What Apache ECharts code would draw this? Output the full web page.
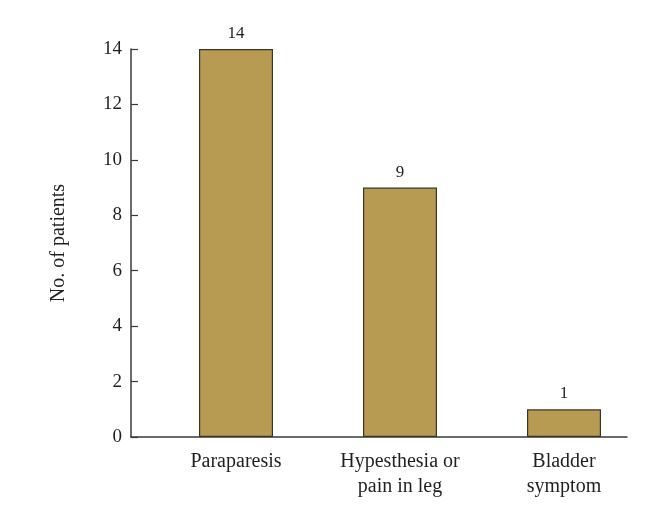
<!DOCTYPE html>
<html>
<head>
<meta charset="utf-8">
<script src="https://cdn.jsdelivr.net/npm/echarts@6/dist/echarts.min.js"></script>
<style>
  html, body { margin: 0; padding: 0; background: #fff; }
  #chart { width: 654px; height: 518px; }
</style>
</head>
<body>
<div id="chart"></div>
<script>
// data
const categories = ['Paraparesis', 'Hypesthesia or\npain in leg', 'Bladder\nsymptom']
const patients = [14, 9, 1]
const yTicks = [0, 2, 4, 6, 8, 10, 12, 14]

const font = 'Liberation Serif'
const textColor = '#231f20'
const axisColor = '#3a3a3a'

const chart = echarts.init(document.getElementById('chart'))

chart.setOption({
  animation: false,
  textStyle: { fontFamily: font },
  grid: [
    // axes frame
    { left: 131, right: 27, top: 49, bottom: 81 },
    // bars (category bands are shifted relative to the frame)
    { left: 154, right: 8, top: 49, bottom: 81 }
  ],
  xAxis: [
    {
      gridIndex: 0,
      type: 'value',
      min: 0,
      max: 1,
      axisLine: { show: true, lineStyle: { color: axisColor, width: 1.5 } },
      axisTick: { show: false },
      axisLabel: { show: false },
      splitLine: { show: false }
    },
    {
      gridIndex: 1,
      type: 'category',
      data: categories,
      axisLine: { show: false },
      axisTick: { show: false },
      axisLabel: {
        color: textColor,
        fontFamily: font,
        fontSize: 20,
        lineHeight: 25,
        margin: 12
      }
    }
  ],
  yAxis: [
    {
      gridIndex: 0,
      type: 'value',
      min: 0,
      max: yTicks[yTicks.length - 1],
      interval: 2,
      name: 'No. of patients',
      nameLocation: 'middle',
      nameGap: 62,
      nameTextStyle: { color: textColor, fontFamily: font, fontSize: 20 },
      axisLine: { show: true, lineStyle: { color: axisColor, width: 1.5 } },
      axisTick: { show: true, inside: true, length: 7, lineStyle: { color: axisColor, width: 1.2 } },
      axisLabel: { color: textColor, fontFamily: font, fontSize: 19, margin: 9 },
      splitLine: { show: false }
    },
    {
      gridIndex: 1,
      type: 'value',
      min: 0,
      max: yTicks[yTicks.length - 1],
      show: false
    }
  ],
  series: [
    {
      type: 'bar',
      xAxisIndex: 1,
      yAxisIndex: 1,
      data: patients,
      barWidth: 74,
      itemStyle: { color: '#b89b52', borderColor: '#3b3325', borderWidth: 1.2 },
      label: {
        show: true,
        position: 'top',
        distance: 7,
        color: textColor,
        fontFamily: font,
        fontSize: 17
      }
    }
  ]
})
</script>
</body>
</html>
